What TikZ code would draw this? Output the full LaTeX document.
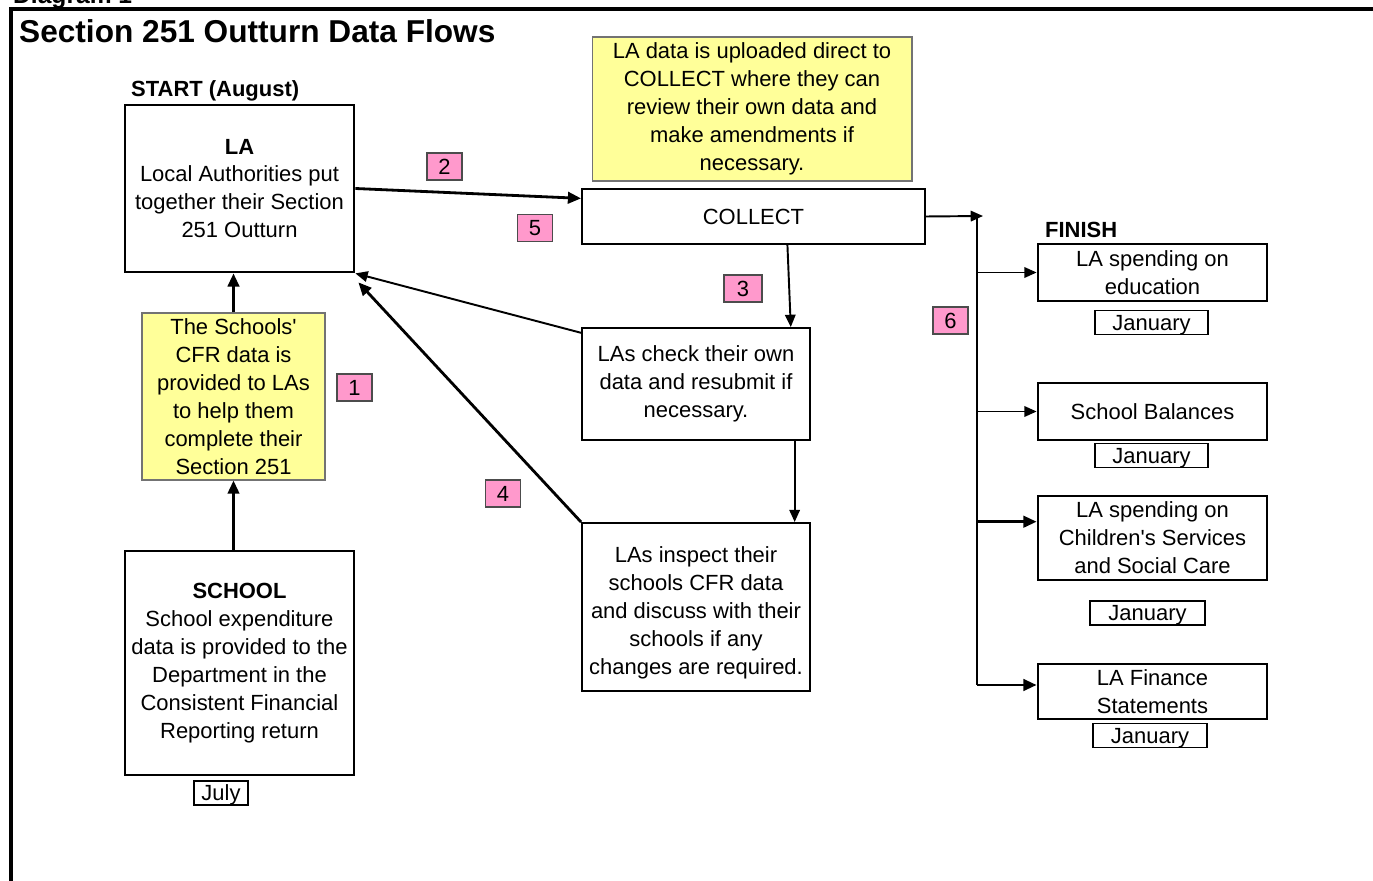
\documentclass[tikz,border=0pt]{standalone}
\usepackage{fontspec}
\setmainfont{Liberation Sans}
\usetikzlibrary{arrows.meta}
\definecolor{notey}{HTML}{FFFF99}
\definecolor{tagp}{HTML}{FF99CC}
\tikzset{%
    box/.style={draw, line width=1.6pt, inner sep=2pt, align=center},
    sbox/.style={draw, line width=1.1pt, inner sep=2pt, align=center},
    note/.style={draw=black!55, fill=notey, line width=0.6pt, inner sep=1pt, align=center},
    tag/.style={draw=black!70, fill=tagp, line width=0.6pt, minimum width=0.7cm, minimum height=0.54cm, inner sep=0pt},
    mon/.style={draw, line width=0.6pt, minimum height=0.48cm, inner sep=0pt, text height=9pt, text depth=0pt},
    hed/.style={anchor=west, font=\fontsize{12.5}{15}\selectfont\bfseries},
    pra/.style={line width=1.6pt, -{Triangle[length=7.5pt,width=6.5pt]}},
    sra/.style={line width=1.1pt, -{Triangle[length=7pt,width=6pt]}}
}

\begin{document}
\begin{tikzpicture}[x=0.02cm, y=-0.02cm, font=\fontsize{12.5}{15.9}\selectfont]
    \useasboundingbox (0,0) rectangle (1373,881);
    \draw [line width=2.2pt](1373,9)--(11,9)--(11,881);
    \node [anchor=base west, font=\fontsize{14}{16}\selectfont\bfseries] (dia) at (7,4) {Diagram 1};
    \node [anchor=west, font=\fontsize{18}{20}\selectfont\bfseries] (title) at (13,31) {Section 251 Outturn Data Flows};
    \node [hed] (start) at (125,91) {START (August)};
    \node [hed] (finish) at (1039,230) {FINISH};
    % left column
    \node [box, minimum width=4.58cm, minimum height=3.34cm] (la) at (239.5,188.5) {\textbf{LA}\\Local Authorities put\\together their Section\\251 Outturn};
    \node [note, minimum width=3.66cm, minimum height=3.34cm] (cfr) at (233.5,396.5) {The Schools\textquotesingle\\CFR data is\\provided to LAs\\to help them\\complete their\\Section 251};
    \node [box, minimum width=4.58cm, minimum height=4.48cm] (school) at (239.5,663) {\textbf{SCHOOL}\\School expenditure\\data is provided to the\\Department in the\\Consistent Financial\\Reporting return};
    \node [mon, minimum width=1.08cm] (jul) at (221,793) {July};
    % middle column
    \node [note, minimum width=6.4cm, minimum height=2.88cm] (upl) at (752,109) {LA data is uploaded direct to\\COLLECT where they can\\review their own data and\\make amendments if\\necessary.};
    \node [sbox, minimum width=6.86cm, minimum height=1.1cm] (collect) at (753.5,216.5) {COLLECT};
    \node [sbox, minimum width=4.56cm, minimum height=2.24cm] (check) at (696,384) {LAs check their own\\data and resubmit if\\necessary.};
    \node [sbox, minimum width=4.56cm, minimum height=3.36cm] (insp) at (696,607) {\mbox{}\\LAs inspect their\\schools CFR data\\and discuss with their\\schools if any\\changes are required.};
    % right column
    \node [box, minimum width=4.58cm, minimum height=1.14cm] (edu) at (1152.5,272.5) {LA spending on\\education};
    \node [mon, minimum width=2.26cm] (jan1) at (1151.5,322.5) {January};
    \node [box, minimum width=4.58cm, minimum height=1.14cm] (bal) at (1152.5,411.5) {School Balances};
    \node [mon, minimum width=2.26cm] (jan2) at (1151.5,455.5) {January};
    \node [box, minimum width=4.58cm, minimum height=1.68cm] (csc) at (1152.5,538) {LA spending on\\Children\textquotesingle s Services\\and Social Care};
    \node [mon, minimum width=2.3cm] (jan3) at (1147.5,613) {January};
    \node [box, minimum width=4.58cm, minimum height=1.1cm] (fin) at (1152.5,691.5) {LA Finance\\Statements};
    \node [mon, minimum width=2.28cm] (jan4) at (1150,735.5) {January};
    % step numbers
    \node [tag] (t1) at (354.5,387.5) {1};
    \node [tag] (t2) at (444.5,166.5) {2};
    \node [tag, minimum width=0.76cm] (t3) at (743,288.5) {3};
    \node [tag] (t4) at (503,493.5) {4};
    \node [tag] (t5) at (535,228) {5};
    \node [tag] (t6) at (950.5,320.5) {6};
    % flows
    \draw [pra](school.north -| cfr) -- (cfr.south);
    \draw [pra](cfr.north) -- (cfr.north |- la.south);
    \draw [pra](la.east) -- (collect.174);
    \draw [sra](collect.-40) -- (check.31);
    \draw [sra](check.156) -- (la.south east);
    \draw [sra](check.-30) -- (check.-30 |- insp.north);
    \draw [pra](insp.north west) -- ([shift={(3,9)}]la.south east);
    \coordinate (bt) at (977,216);
    \coordinate (bb) at (977,685);
    \coordinate (btip) at (983,216);
    \draw [sra](collect.east) -- (btip);
    \draw [line width=1.1pt](bt) -- (bb);
    \draw [sra](bt |- edu.west) -- (edu.west);
    \draw [sra](bt |- bal.west) -- (bal.west);
    \draw [pra](bt |- csc.172) -- (csc.172);
    \draw [pra](bb) -- (bb -| fin.west);
\end{tikzpicture}
\end{document}
